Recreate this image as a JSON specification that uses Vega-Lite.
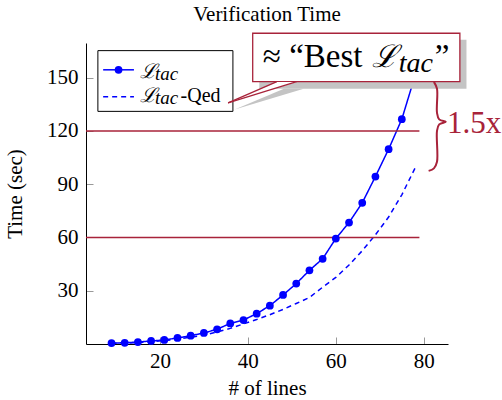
{
  "$schema": "https://vega.github.io/schema/vega-lite/v6.json",
  "width": 362,
  "height": 301,
  "autosize": {"type": "none"},
  "padding": {"left": 86, "top": 43, "right": 54, "bottom": 56},
  "title": {"text": "Verification Time", "font": "Liberation Serif, Times New Roman, serif", "fontSize": 21, "fontWeight": "normal", "color": "black", "baseline": "alphabetic", "offset": -9, "anchor": "middle"},
  "config": {
    "view": {"stroke": null},
    "font": "Liberation Serif, Times New Roman, serif",
    "axis": {"grid": false, "domainColor": "black", "domainWidth": 1, "tickColor": "#999999", "tickSize": -7, "tickWidth": 1, "labelFont": "Liberation Serif, Times New Roman, serif", "labelFontSize": 21, "labelColor": "black", "titleFont": "Liberation Serif, Times New Roman, serif", "titleFontSize": 21, "titleFontWeight": "normal", "titleColor": "black"}
  },
  "data": {"values": [{}]},
  "datasets": {
    "times": [
      {"lines": 9, "series": "Ltac", "time": 0.5},
      {"lines": 12, "series": "Ltac", "time": 0.7},
      {"lines": 15, "series": "Ltac", "time": 1.1},
      {"lines": 18, "series": "Ltac", "time": 1.7},
      {"lines": 21, "series": "Ltac", "time": 2.3},
      {"lines": 24, "series": "Ltac", "time": 3.4},
      {"lines": 27, "series": "Ltac", "time": 4.7},
      {"lines": 30, "series": "Ltac", "time": 6.2},
      {"lines": 33, "series": "Ltac", "time": 8.3},
      {"lines": 36, "series": "Ltac", "time": 11.6},
      {"lines": 39, "series": "Ltac", "time": 13.5},
      {"lines": 42, "series": "Ltac", "time": 17.1},
      {"lines": 45, "series": "Ltac", "time": 21.6},
      {"lines": 48, "series": "Ltac", "time": 27.6},
      {"lines": 51, "series": "Ltac", "time": 34.0},
      {"lines": 54, "series": "Ltac", "time": 41.5},
      {"lines": 57, "series": "Ltac", "time": 48.0},
      {"lines": 60, "series": "Ltac", "time": 59.4},
      {"lines": 63, "series": "Ltac", "time": 68.4},
      {"lines": 66, "series": "Ltac", "time": 79.5},
      {"lines": 69, "series": "Ltac", "time": 94.3},
      {"lines": 72, "series": "Ltac", "time": 109.7},
      {"lines": 75, "series": "Ltac", "time": 126.6},
      {"lines": 78, "series": "Ltac", "time": 151},
      {"lines": 9, "series": "Ltac-Qed", "time": 0.3},
      {"lines": 12, "series": "Ltac-Qed", "time": 0.5},
      {"lines": 15, "series": "Ltac-Qed", "time": 0.8},
      {"lines": 18, "series": "Ltac-Qed", "time": 1.3},
      {"lines": 21, "series": "Ltac-Qed", "time": 1.9},
      {"lines": 24, "series": "Ltac-Qed", "time": 2.7},
      {"lines": 27, "series": "Ltac-Qed", "time": 3.8},
      {"lines": 30, "series": "Ltac-Qed", "time": 5.0},
      {"lines": 33, "series": "Ltac-Qed", "time": 6.8},
      {"lines": 36, "series": "Ltac-Qed", "time": 8.8},
      {"lines": 39, "series": "Ltac-Qed", "time": 11.3},
      {"lines": 42, "series": "Ltac-Qed", "time": 13.8},
      {"lines": 45, "series": "Ltac-Qed", "time": 16.5},
      {"lines": 48, "series": "Ltac-Qed", "time": 19.5},
      {"lines": 51, "series": "Ltac-Qed", "time": 22.8},
      {"lines": 54, "series": "Ltac-Qed", "time": 26.2},
      {"lines": 57, "series": "Ltac-Qed", "time": 32.0},
      {"lines": 60, "series": "Ltac-Qed", "time": 37.5},
      {"lines": 63, "series": "Ltac-Qed", "time": 44.5},
      {"lines": 66, "series": "Ltac-Qed", "time": 52.5},
      {"lines": 69, "series": "Ltac-Qed", "time": 61.5},
      {"lines": 72, "series": "Ltac-Qed", "time": 71.5},
      {"lines": 75, "series": "Ltac-Qed", "time": 84.0},
      {"lines": 78, "series": "Ltac-Qed", "time": 99.0}
    ],
    "limits": [{"limit": 60}, {"limit": 120}],
    "brace": [
      {"bx": 82.3, "by": 147.6, "k": 1},
      {"bx": 83.0, "by": 143.7, "k": 2},
      {"bx": 83.0, "by": 130.2, "k": 3},
      {"bx": 83.5, "by": 126.5, "k": 4},
      {"bx": 85.0, "by": 125.1, "k": 5},
      {"bx": 83.5, "by": 123.7, "k": 6},
      {"bx": 83.0, "by": 120.0, "k": 7},
      {"bx": 83.0, "by": 102.6, "k": 8},
      {"bx": 82.3, "by": 98.9, "k": 9},
      {"bx": 81.1, "by": 97.5, "k": 10}
    ],
    "callout": [
      {"cy": 147.6, "cx": 46.6, "cx2": 51.1},
      {"cy": 135.8, "cx": 35.5, "cx2": 35.5}
    ],
    "calloutShadow": [
      {"cy": 143.7, "cx": 48.2, "cx2": 52.7},
      {"cy": 132.0, "cx": 37.0, "cx2": 37.0}
    ]
  },
  "layer": [
    {
      "data": {"name": "times"},
      "mark": {"type": "line", "color": "#0000ff", "strokeWidth": 1.5},
      "encoding": {
        "x": {"field": "lines", "type": "quantitative", "title": "# of lines", "scale": {"domain": [3.2, 85.5], "nice": false, "zero": false}, "axis": {"title": "# of lines", "values": [20, 40, 60, 80], "labelPadding": 13, "titlePadding": 6}},
        "y": {"field": "time", "type": "quantitative", "title": "Time (sec)", "scale": {"domain": [0, 169.5], "nice": false}, "axis": {"title": "Time (sec)", "values": [30, 60, 90, 120, 150], "labelPadding": 15, "titlePadding": 21}},
        "strokeDash": {"field": "series", "type": "nominal", "scale": {"domain": ["Ltac", "Ltac-Qed"], "range": [[1, 0], [5, 4]]}, "legend": null},
        "detail": {"field": "series"}
      }
    },
    {
      "data": {"name": "limits"},
      "mark": {"type": "rule", "color": "#a8233a", "strokeWidth": 1.5},
      "encoding": {
        "y": {"field": "limit", "type": "quantitative"},
        "x": {"datum": 3.2, "type": "quantitative"},
        "x2": {"datum": 79}
      }
    },
    {
      "data": {"name": "times"},
      "transform": [{"filter": "datum.series === 'Ltac'"}],
      "mark": {"type": "point", "filled": true, "opacity": 1, "color": "#0000ff", "size": 60},
      "encoding": {
        "x": {"field": "lines", "type": "quantitative"},
        "y": {"field": "time", "type": "quantitative"}
      }
    },
    {
      "mark": {"type": "area", "orient": "horizontal", "color": "#c4c4c4", "opacity": 1},
      "data": {"name": "calloutShadow"},
      "encoding": {
        "y": {"field": "cy", "type": "quantitative"},
        "x": {"field": "cx", "type": "quantitative"},
        "x2": {"field": "cx2"}
      }
    },
    {
      "mark": {"type": "rect", "fill": "white", "stroke": "black", "strokeWidth": 1},
      "encoding": {
        "x": {"datum": 5.9, "type": "quantitative"},
        "x2": {"datum": 36.6},
        "y": {"datum": 131.0, "type": "quantitative"},
        "y2": {"datum": 165.2}
      }
    },
    {
      "mark": {"type": "rule", "color": "#0000ff", "strokeWidth": 1.5},
      "encoding": {
        "x": {"datum": 7.1, "type": "quantitative"},
        "x2": {"datum": 14.1},
        "y": {"datum": 154.4, "type": "quantitative"}
      }
    },
    {
      "mark": {"type": "point", "filled": true, "opacity": 1, "color": "#0000ff", "size": 60},
      "encoding": {
        "x": {"datum": 10.6, "type": "quantitative"},
        "y": {"datum": 154.4, "type": "quantitative"}
      }
    },
    {
      "mark": {"type": "rule", "color": "#0000ff", "strokeWidth": 1.5, "strokeDash": [5, 4]},
      "encoding": {
        "x": {"datum": 7.1, "type": "quantitative"},
        "x2": {"datum": 14.1},
        "y": {"datum": 139.3, "type": "quantitative"}
      }
    },
    {
      "mark": {"type": "text", "text": "ℒ", "font": "DejaVu Serif", "fontStyle": "italic", "fontSize": 20, "align": "left", "baseline": "alphabetic", "color": "black"},
      "encoding": {
        "x": {"datum": 15.4, "type": "quantitative"},
        "y": {"datum": 150.0, "type": "quantitative"}
      }
    },
    {
      "mark": {"type": "text", "text": "tac", "font": "Liberation Serif, Times New Roman, serif", "fontStyle": "italic", "fontSize": 19, "align": "left", "baseline": "alphabetic", "color": "black"},
      "encoding": {
        "x": {"datum": 18.9, "type": "quantitative"},
        "y": {"datum": 148.4, "type": "quantitative"}
      }
    },
    {
      "mark": {"type": "text", "text": "ℒ", "font": "DejaVu Serif", "fontStyle": "italic", "fontSize": 20, "align": "left", "baseline": "alphabetic", "color": "black"},
      "encoding": {
        "x": {"datum": 15.4, "type": "quantitative"},
        "y": {"datum": 136.5, "type": "quantitative"}
      }
    },
    {
      "mark": {"type": "text", "text": "tac", "font": "Liberation Serif, Times New Roman, serif", "fontStyle": "italic", "fontSize": 19, "align": "left", "baseline": "alphabetic", "color": "black"},
      "encoding": {
        "x": {"datum": 18.9, "type": "quantitative"},
        "y": {"datum": 135.2, "type": "quantitative"}
      }
    },
    {
      "mark": {"type": "text", "text": "-Qed", "font": "Liberation Serif, Times New Roman, serif", "fontSize": 20, "align": "left", "baseline": "alphabetic", "color": "black"},
      "encoding": {
        "x": {"datum": 24.7, "type": "quantitative"},
        "y": {"datum": 136.5, "type": "quantitative"}
      }
    },
    {
      "mark": {"type": "rect", "fill": "#c4c4c4"},
      "encoding": {
        "x": {"datum": 42.6, "type": "quantitative"},
        "x2": {"datum": 89.7},
        "y": {"datum": 143.7, "type": "quantitative"},
        "y2": {"datum": 171.3}
      }
    },
    {
      "mark": {"type": "rect", "fill": "white", "stroke": "#a8233a", "strokeWidth": 1.3},
      "encoding": {
        "x": {"datum": 41.1, "type": "quantitative"},
        "x2": {"datum": 88.2},
        "y": {"datum": 147.8, "type": "quantitative"},
        "y2": {"datum": 175.0}
      }
    },
    {
      "mark": {"type": "area", "orient": "horizontal", "color": "white", "opacity": 1},
      "data": {"name": "callout"},
      "encoding": {
        "y": {"field": "cy", "type": "quantitative"},
        "x": {"field": "cx", "type": "quantitative"},
        "x2": {"field": "cx2"}
      }
    },
    {
      "mark": {"type": "rule", "color": "#a8233a", "strokeWidth": 1.3},
      "encoding": {
        "x": {"datum": 46.6, "type": "quantitative"},
        "y": {"datum": 147.8, "type": "quantitative"},
        "x2": {"datum": 35.5},
        "y2": {"datum": 135.8}
      }
    },
    {
      "mark": {"type": "rule", "color": "#a8233a", "strokeWidth": 1.3},
      "encoding": {
        "x": {"datum": 51.1, "type": "quantitative"},
        "y": {"datum": 147.8, "type": "quantitative"},
        "x2": {"datum": 35.5},
        "y2": {"datum": 135.8}
      }
    },
    {
      "mark": {"type": "text", "text": "≈ “Best", "font": "Liberation Serif, Times New Roman, serif", "fontSize": 33, "align": "left", "baseline": "alphabetic", "color": "black"},
      "encoding": {
        "x": {"datum": 43.4, "type": "quantitative"},
        "y": {"datum": 156.2, "type": "quantitative"}
      }
    },
    {
      "mark": {"type": "text", "text": "ℒ", "font": "DejaVu Serif", "fontStyle": "italic", "fontSize": 31, "align": "left", "baseline": "alphabetic", "color": "black"},
      "encoding": {
        "x": {"datum": 68.2, "type": "quantitative"},
        "y": {"datum": 156.2, "type": "quantitative"}
      }
    },
    {
      "mark": {"type": "text", "text": "tac", "font": "Liberation Serif, Times New Roman, serif", "fontStyle": "italic", "fontSize": 28, "align": "left", "baseline": "alphabetic", "color": "black"},
      "encoding": {
        "x": {"datum": 74.3, "type": "quantitative"},
        "y": {"datum": 153.4, "type": "quantitative"}
      }
    },
    {
      "mark": {"type": "text", "text": "”", "font": "Liberation Serif, Times New Roman, serif", "fontSize": 33, "align": "left", "baseline": "alphabetic", "color": "black"},
      "encoding": {
        "x": {"datum": 82.5, "type": "quantitative"},
        "y": {"datum": 156.2, "type": "quantitative"}
      }
    },
    {
      "data": {"name": "brace"},
      "mark": {"type": "line", "color": "#a8233a", "strokeWidth": 2, "interpolate": "catmull-rom"},
      "encoding": {
        "x": {"field": "bx", "type": "quantitative"},
        "y": {"field": "by", "type": "quantitative"},
        "order": {"field": "k"}
      }
    },
    {
      "mark": {"type": "text", "text": "1.5x", "font": "Liberation Serif, Times New Roman, serif", "fontSize": 31, "align": "left", "baseline": "alphabetic", "color": "#a8233a"},
      "encoding": {
        "x": {"datum": 85.3, "type": "quantitative"},
        "y": {"datum": 118.9, "type": "quantitative"}
      }
    }
  ]
}
